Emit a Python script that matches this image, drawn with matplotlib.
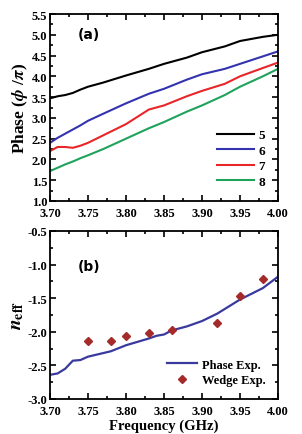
import matplotlib
matplotlib.use("Agg")
import matplotlib.pyplot as plt
from matplotlib.ticker import MultipleLocator

plt.rcParams['font.family'] = ['Liberation Serif', 'DejaVu Serif']
plt.rcParams['font.weight'] = 'bold'
plt.rcParams['mathtext.fontset'] = 'stix'

# Panel (a) data
freq_a = [3.70, 3.71, 3.72, 3.73, 3.74, 3.75, 3.77, 3.80, 3.83, 3.85, 3.88, 3.90, 3.93, 3.95, 3.98, 4.00]
phase5 = [3.47, 3.52, 3.55, 3.60, 3.68, 3.75, 3.85, 4.02, 4.18, 4.30, 4.45, 4.58, 4.72, 4.85, 4.95, 5.00]
phase6 = [2.40, 2.52, 2.62, 2.72, 2.82, 2.93, 3.10, 3.35, 3.58, 3.70, 3.92, 4.05, 4.18, 4.30, 4.48, 4.60]
phase7 = [2.20, 2.30, 2.30, 2.28, 2.33, 2.40, 2.58, 2.85, 3.20, 3.30, 3.52, 3.65, 3.82, 4.00, 4.20, 4.33]
phase8 = [1.72, 1.80, 1.88, 1.95, 2.03, 2.10, 2.25, 2.50, 2.75, 2.90, 3.15, 3.30, 3.55, 3.75, 4.00, 4.18]
labels_a = ['5', '6', '7', '8']
colors_a = ['black', '#3333b0', '#e8262a', '#1fa35c']

# Panel (b) data
freq_b = [3.70, 3.71, 3.72, 3.73, 3.74, 3.75, 3.78, 3.80, 3.83, 3.84, 3.85, 3.86, 3.88, 3.90, 3.92, 3.95, 3.98, 4.00]
neff_phase = [-2.64, -2.62, -2.55, -2.43, -2.42, -2.37, -2.29, -2.20, -2.10, -2.06, -2.04, -1.98, -1.92, -1.84, -1.73, -1.52, -1.35, -1.18]
freq_wedge = [3.75, 3.78, 3.80, 3.83, 3.86, 3.92, 3.95, 3.98]
neff_wedge = [-2.13, -2.13, -2.06, -2.02, -1.98, -1.87, -1.46, -1.22]

fig = plt.figure(figsize=(3.02, 4.35), dpi=100)
ax1 = fig.add_axes([50/302, 1 - 202/435, 228/302, 187/435])
ax2 = fig.add_axes([50/302, 1 - 400/435, 228/302, 168/435])

for ph, lab, c in zip([phase5, phase6, phase7, phase8], labels_a, colors_a):
    ax1.plot(freq_a, ph, color=c, lw=1.5, label=lab)
ax1.set_xlim(3.70, 4.00)
ax1.set_ylim(1.0, 5.5)
ax1.yaxis.set_major_locator(MultipleLocator(0.5))
ax1.yaxis.set_minor_locator(MultipleLocator(0.25))
ax1.set_ylabel(r'Phase ($\phi$ /$\pi$)', fontsize=12.5, fontweight='bold', labelpad=1)
ax1.text(0.12, 0.87, '(a)', transform=ax1.transAxes, fontsize=10, fontweight='bold',
         family='DejaVu Sans')
ax1.legend(loc='lower right', frameon=False, fontsize=9.5, handlelength=2.8,
           labelspacing=0.25, borderaxespad=0.6, handletextpad=0.3)

ax2.plot(freq_b, neff_phase, color='#3a3a9e', lw=1.6, label='Phase Exp.')
ax2.plot(freq_wedge, neff_wedge, 'D', color='#a52a2a', ms=4.5, lw=0, label='Wedge Exp.')
ax2.set_xlim(3.70, 4.00)
ax2.set_ylim(-3.0, -0.5)
ax2.yaxis.set_major_locator(MultipleLocator(0.5))
ax2.yaxis.set_minor_locator(MultipleLocator(0.25))
ax2.set_ylabel(r'$n_{\mathrm{eff}}$', fontsize=14, labelpad=1)
ax2.set_xlabel('Frequency (GHz)', fontsize=10.5, fontweight='bold', labelpad=1)
ax2.text(0.12, 0.77, '(b)', transform=ax2.transAxes, fontsize=10, fontweight='bold',
         family='DejaVu Sans')
ax2.legend(loc='lower right', frameon=False, fontsize=9, handlelength=2.4,
           labelspacing=0.3, borderaxespad=0.6, handletextpad=0.4)

for ax in (ax1, ax2):
    ax.xaxis.set_major_locator(MultipleLocator(0.05))
    ax.xaxis.set_minor_locator(MultipleLocator(0.025))
    ax.xaxis.set_major_formatter(plt.FormatStrFormatter('%.2f'))
    ax.yaxis.set_major_formatter(plt.FormatStrFormatter('%.1f'))
    ax.tick_params(which='both', direction='in', top=True, right=True, labelsize=9, width=1.2)
    ax.tick_params(which='major', length=4)
    ax.tick_params(axis='x', which='major', pad=4.5)
    ax.tick_params(axis='y', which='major', pad=2)
    ax.tick_params(which='minor', length=2)
    for s in ax.spines.values():
        s.set_linewidth(1.3)
    for t in ax.get_xticklabels() + ax.get_yticklabels():
        t.set_fontweight('bold')

fig.savefig('out.png', dpi=100)
